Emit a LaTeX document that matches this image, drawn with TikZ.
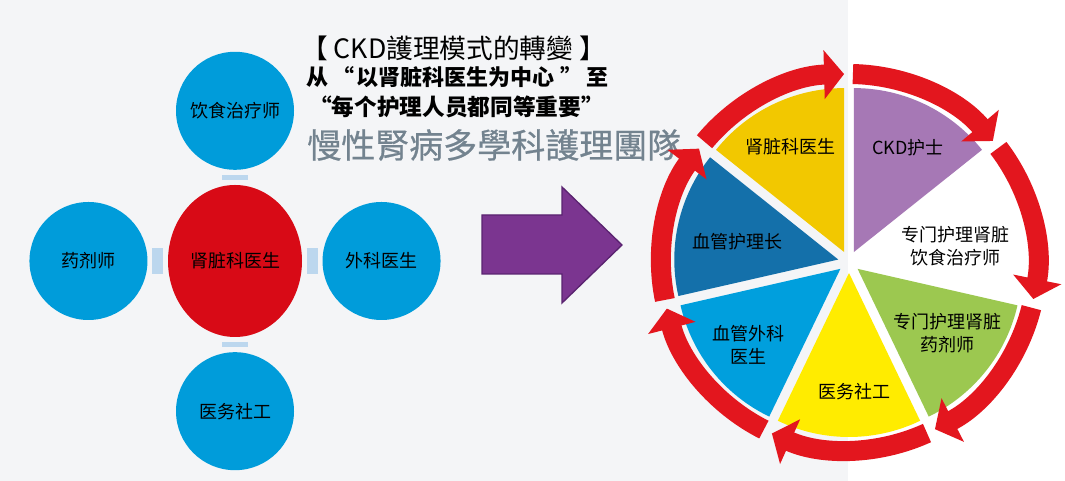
\documentclass[tikz,border=0pt]{standalone}
\usepackage{fontspec}
\usepackage{tikz}
\usetikzlibrary{arrows.meta,calc,positioning,shapes.geometric}
\setmainfont{Noto Sans CJK SC}
\newfontfamily\tcfont{Noto Sans CJK TC}
\newfontfamily\tcheavy[FakeBold=0.6]{Noto Sans CJK TC}
\definecolor{paper}{HTML}{F4F5F7}
\definecolor{circblue}{HTML}{009CDA}
\definecolor{corered}{HTML}{D80A16}
\definecolor{linkblue}{HTML}{BCD7EE}
\definecolor{titlegray}{HTML}{73838F}
\definecolor{shiftpurple}{HTML}{7B3590}
\definecolor{shiftedge}{HTML}{5A2370}
\definecolor{ringred}{HTML}{E3161E}
\definecolor{gold}{HTML}{F2C800}
\definecolor{plum}{HTML}{A678B5}
\definecolor{leaf}{HTML}{9CC850}
\definecolor{lemon}{HTML}{FFEC00}
\definecolor{sky}{HTML}{009FDD}
\definecolor{navy}{HTML}{1470AA}

\begin{document}
\begin{tikzpicture}[x=0.75pt,y=0.75pt,>=Latex,node distance=11pt and 15pt,
    member/.style={circle,fill=circblue,minimum size=88.5pt,inner sep=0pt,font=\fontsize{13.5}{16}\selectfont},
    link/.style={draw=linkblue,line width=20pt,shorten <=3.5pt,shorten >=3.5pt},
    ringarc/.style={draw=ringred,line width=15pt,-{Triangle[width=36pt,length=15pt]}},
    slicetxt/.style={align=center,font=\fontsize{13.5}{17.25}\selectfont},
    headline/.style={anchor=west,inner sep=0pt}]
  \useasboundingbox (0,0) rectangle (1065,481);
  \fill[white] (0,0) rectangle (1065,481);
  \fill[paper] (0,0) rectangle (848,481);

  % old model: everyone around the nephrologist
  \node[ellipse,fill=corered,minimum width=100.5pt,minimum height=114pt,inner sep=0pt,font=\fontsize{13.5}{16}\selectfont] (doc) at (235,220) {肾脏科医生};
  \node[member,above=of doc] (diet) {饮食治疗师};
  \node[member,left=of doc] (pharm) {药剂师};
  \node[member,right=of doc] (surg) {外科医生};
  \node[member,below=of doc] (social) {医务社工};
  \foreach \u in {diet,pharm,surg,social}{\draw[link] (doc) -- (\u);}

  % heading
  \node[headline,font=\tcfont\fontsize{20}{22}\selectfont] (head) at (301,433) {【 CKD護理模式的轉變 】};
  \node[headline,font=\bfseries\fontsize{16.5}{18}\selectfont] (from) at (306,404) {从\hspace{3pt}“\hspace{1.5pt}以肾脏科医生为中心\hspace{5pt}”\hspace{2.5pt}至};
  \node[headline,font=\bfseries\fontsize{17}{20}\selectfont] (to) at (309,374) {“每个护理人员都同等重要”};
  \node[headline,text=titlegray,font=\tcheavy\fontsize{25.5}{30}\selectfont] (team) at (307,336) {慢性腎病多學科護理團隊};

  % shift arrow
  \filldraw[fill=shiftpurple,draw=shiftedge,line width=1pt] (482,266) -- (562,266) -- (562,294) -- (622,236) -- (562,178) -- (562,207) -- (482,207) -- cycle;

  % new model: the team wheel
  \coordinate (pc) at (849,219);
  \foreach \a/\col in {0/gold,1/plum,2/white,3/leaf,4/lemon,5/sky,6/navy}{
    \pgfmathsetmacro\s{141.43-51.43*\a}
    \pgfmathsetmacro\e{\s-51.43}
    \pgfmathsetmacro\m{\s-25.715}
    \fill[\col] ([shift={(\m:11)}]pc) -- ++(\s:164) arc[start angle=\s,end angle=\e,radius=164] -- cycle;
  }
  \foreach \a in {0,...,6}{
    \pgfmathsetmacro\s{141.43-51.43*\a-1.2}
    \pgfmathsetmacro\e{90-51.43*\a+1.5}
    \draw[ringarc] ([shift={(\s:188)}]pc) arc[start angle=\s,end angle=\e,radius=188];
  }
  \node[slicetxt] (neph) at (790,334) {肾脏科医生};
  \node[slicetxt] (ckd) at (908,333) {CKD护士};
  \node[slicetxt] (dietn) at (955,234.5) {专门护理肾脏\\饮食治疗师};
  \node[slicetxt] (pharmn) at (947,148) {专门护理肾脏\\药剂师};
  \node[slicetxt] (socw) at (854,89) {医务社工};
  \node[slicetxt] (vsurg) at (748,136.5) {血管外科\\医生};
  \node[slicetxt] (vnurse) at (737,239) {血管护理长};
\end{tikzpicture}
\end{document}
